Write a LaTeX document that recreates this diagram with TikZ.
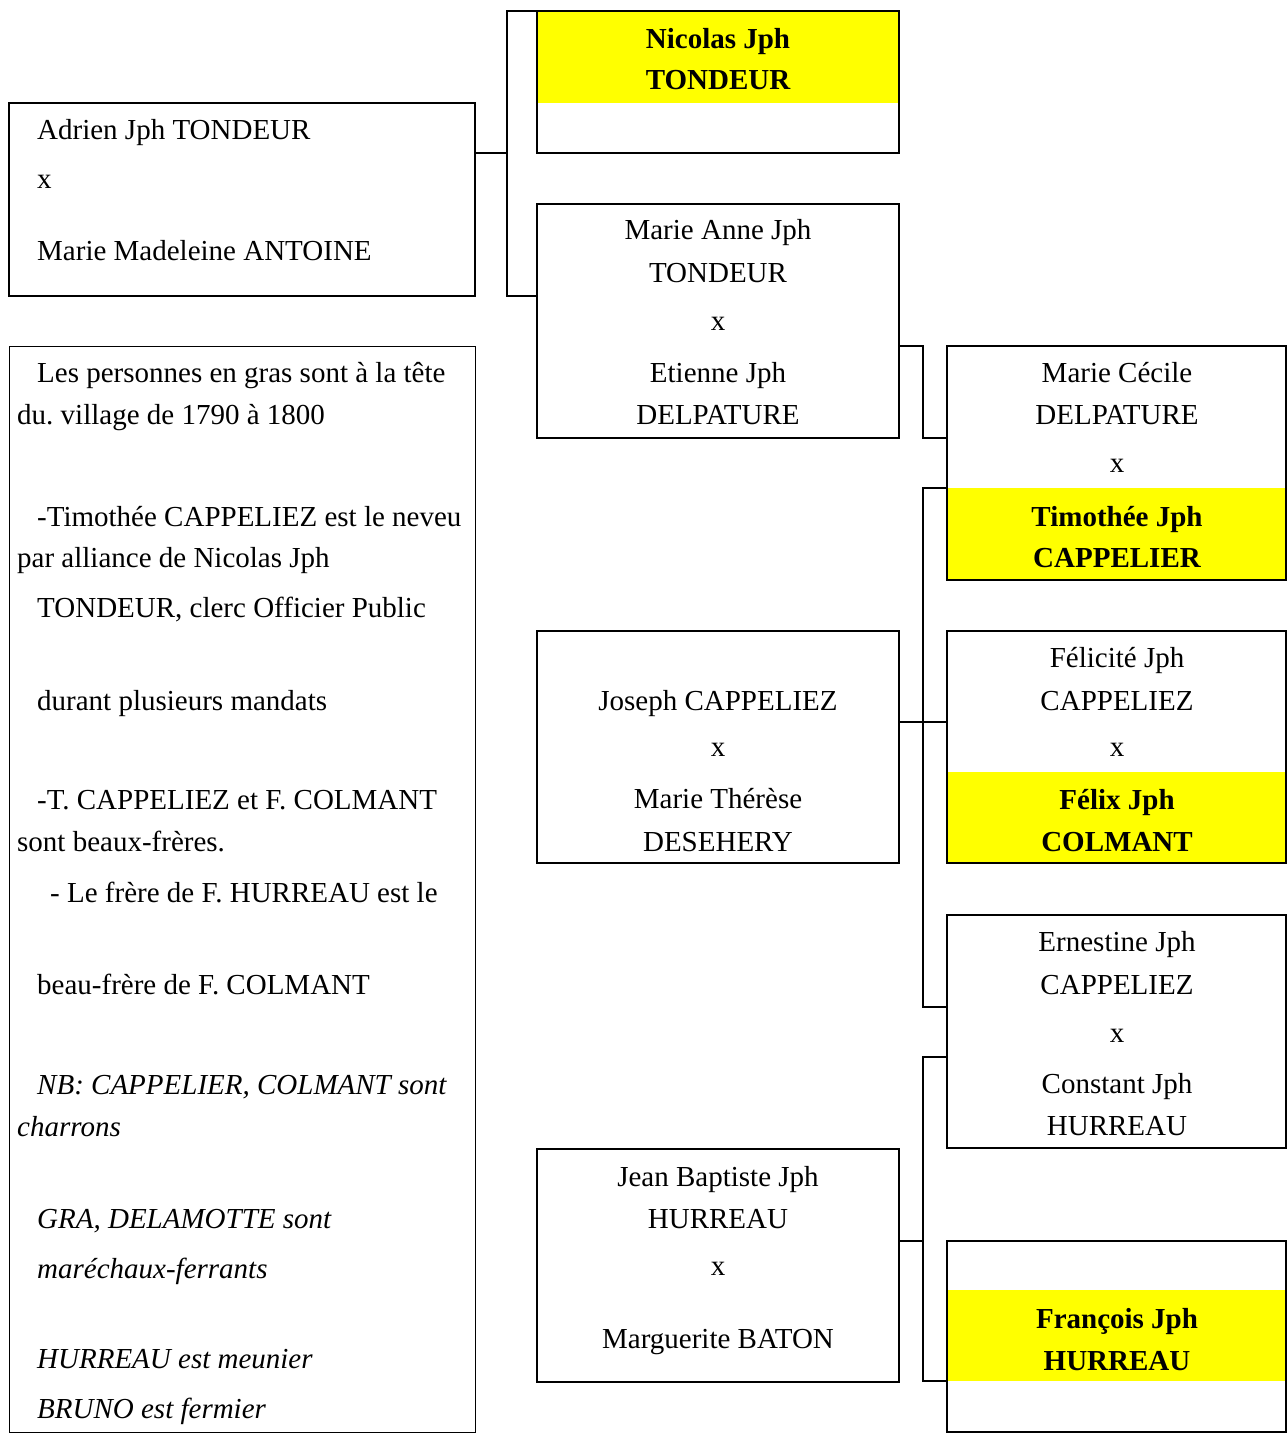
\documentclass[tikz,border=0pt]{standalone}
\usepackage{fontspec}
\setmainfont{Liberation Serif}
\definecolor{hl}{RGB}{255,255,0}
\frenchspacing
\begin{document}
\begin{tikzpicture}[x=1pt,y=-1pt,
  box/.style={draw=black,line width=1.6pt,inner sep=0pt,outer sep=0pt,anchor=north west},
  notebox/.style={draw=black,line width=1pt,inner sep=0pt,outer sep=0pt,anchor=north west},
  band/.style={fill=hl,draw=none,inner sep=0pt,outer sep=0pt,anchor=north west},
  conn/.style={line width=1.6pt,line join=miter},
  txt/.style={inner sep=0pt,anchor=base,font=\fontsize{29}{35}\selectfont},
  ltxt/.style={inner sep=0pt,anchor=base west,font=\fontsize{29}{35}\selectfont},
  itxt/.style={inner sep=0pt,anchor=base west,font=\fontsize{29}{35}\selectfont\itshape},
  btxt/.style={inner sep=0pt,anchor=base,font=\fontsize{29}{35}\selectfont\bfseries}]
\useasboundingbox (0,0) rectangle (1287,1439);
\fill[white] (0,0) rectangle (1287,1439);
% yellow bands
\node[band,minimum width=362pt,minimum height=92pt] (nicY) at (537,11) {};
\node[band,minimum width=339pt,minimum height=92pt] (ccY) at (947,488) {};
\node[band,minimum width=339pt,minimum height=91pt] (feY) at (947,772) {};
\node[band,minimum width=339pt,minimum height=91pt] (frY) at (947,1290) {};
% boxes
\node[box,minimum width=466pt,minimum height=193pt] (adrien) at (9,103) {};
\node[notebox,minimum width=466pt,minimum height=1086pt] (notes) at (9,346) {};
\node[box,minimum width=362pt,minimum height=142pt] (nicolas) at (537,11) {};
\node[box,minimum width=362pt,minimum height=234pt] (marieanne) at (537,204) {};
\node[box,minimum width=362pt,minimum height=232pt] (joseph) at (537,631) {};
\node[box,minimum width=362pt,minimum height=233pt] (jeanbaptiste) at (537,1149) {};
\node[box,minimum width=339pt,minimum height=234pt] (mariececile) at (947,346) {};
\node[box,minimum width=339pt,minimum height=232pt] (felicite) at (947,631) {};
\node[box,minimum width=339pt,minimum height=233pt] (ernestine) at (947,915) {};
\node[box,minimum width=339pt,minimum height=191pt] (francois) at (947,1241) {};
% connectors
\coordinate (j1) at (507,153);
\coordinate (t) at (923,0);
\coordinate (b3e) at (947,1007);
\coordinate (k3) at (923,722);
\coordinate (b4e) at (947,1057);
\draw[conn] (adrien.east |- j1) -- (j1);
\draw[conn] (nicolas.north west) -| (j1) |- (marieanne.west |- adrien.south);
\draw[conn] (marieanne.east |- mariececile.north) -| (t |- marieanne.south) -- (mariececile.west |- marieanne.south);
\draw[conn] (mariececile.west |- ccY.north) -- (t |- ccY.north) -- (t |- b3e) -- (b3e);
\draw[conn] (joseph.east |- k3) -- (felicite.west |- k3);
\draw[conn] (b4e) -- (t |- b4e) -- (t |- frY.south) -- (francois.west |- frY.south);
\draw[conn] (jeanbaptiste.east |- francois.north) -- (t |- francois.north);
% Adrien
\node[ltxt] (a1) at (37,140) {Adrien Jph TONDEUR};
\node[ltxt] (a2) at (37,189) {x};
\node[ltxt] (a3) at (37,260) {Marie Madeleine ANTOINE};
% notes
\node[ltxt] (n1) at (37,382) {Les personnes en gras sont à la tête};
\node[ltxt] (n2) at (17,424) {du. village de 1790 à 1800};
\node[ltxt] (n3) at (37,526) {-Timothée CAPPELIEZ est le neveu};
\node[ltxt] (n4) at (17,567) {par alliance de Nicolas Jph};
\node[ltxt] (n5) at (37,617) {TONDEUR, clerc Officier Public};
\node[ltxt] (n6) at (37,710) {durant plusieurs mandats};
\node[ltxt] (n7) at (37,809) {-T. CAPPELIEZ et F. COLMANT};
\node[ltxt] (n8) at (17,851) {sont beaux-frères.};
\node[ltxt] (n9) at (50,902) {- Le frère de F. HURREAU est le};
\node[ltxt] (n10) at (37,994) {beau-frère de F. COLMANT};
\node[itxt] (n11) at (37,1094) {NB: CAPPELIER, COLMANT sont};
\node[itxt] (n12) at (17,1136) {charrons};
\node[itxt] (n13) at (37,1228) {GRA, DELAMOTTE sont};
\node[itxt] (n14) at (37,1278) {maréchaux-ferrants};
\node[itxt] (n15) at (37,1368) {HURREAU est meunier};
\node[itxt] (n16) at (37,1418) {BRUNO est fermier};
% Nicolas
\node[btxt] (ni1) at (718,49) {Nicolas Jph};
\node[btxt] (ni2) at (718,90) {TONDEUR};
% Marie Anne
\node[txt] (ma1) at (718,240) {Marie Anne Jph};
\node[txt] (ma2) at (718,282) {TONDEUR};
\node[txt] (ma3) at (718,330) {x};
\node[txt] (ma4) at (718,382) {Etienne Jph};
\node[txt] (ma5) at (718,424) {DELPATURE};
% Joseph
\node[txt] (jo1) at (718,710) {Joseph CAPPELIEZ};
\node[txt] (jo2) at (718,756) {x};
\node[txt] (jo3) at (718,808) {Marie Thérèse};
\node[txt] (jo4) at (718,851) {DESEHERY};
% Jean Baptiste
\node[txt] (jb1) at (718,1186) {Jean Baptiste Jph};
\node[txt] (jb2) at (718,1228) {HURREAU};
\node[txt] (jb3) at (718,1275) {x};
\node[txt] (jb4) at (718,1348) {Marguerite BATON};
% Marie Cecile
\node[txt] (mc1) at (1117,382) {Marie Cécile};
\node[txt] (mc2) at (1117,424) {DELPATURE};
\node[txt] (mc3) at (1117,472) {x};
\node[btxt] (mc4) at (1117,526) {Timothée Jph};
\node[btxt] (mc5) at (1117,567) {CAPPELIER};
% Felicite
\node[txt] (fe1) at (1117,667) {Félicité Jph};
\node[txt] (fe2) at (1117,710) {CAPPELIEZ};
\node[txt] (fe3) at (1117,756) {x};
\node[btxt] (fe4) at (1117,809) {Félix Jph};
\node[btxt] (fe5) at (1117,851) {COLMANT};
% Ernestine
\node[txt] (er1) at (1117,951) {Ernestine Jph};
\node[txt] (er2) at (1117,994) {CAPPELIEZ};
\node[txt] (er3) at (1117,1042) {x};
\node[txt] (er4) at (1117,1093) {Constant Jph};
\node[txt] (er5) at (1117,1135) {HURREAU};
% Francois
\node[btxt] (fr1) at (1117,1328) {François Jph};
\node[btxt] (fr2) at (1117,1370) {HURREAU};
\end{tikzpicture}
\end{document}
